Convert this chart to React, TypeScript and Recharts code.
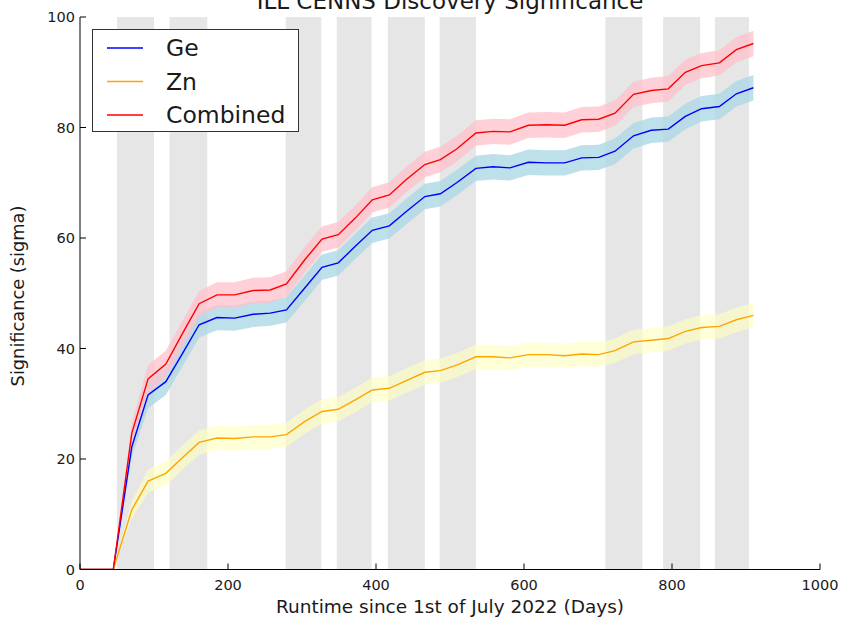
import React from 'react';
import { ComposedChart, Area, Line, XAxis, YAxis, ReferenceArea, Legend } from 'recharts';

// Runtime (days since 1 July 2022) at each evaluation step
const days = [0, 45, 70, 92, 116, 138, 161, 185, 209, 234, 257, 279, 304, 327, 349, 372, 395, 418, 441, 466, 487, 509, 535, 558, 581, 606, 630, 655, 678, 701, 723, 748, 772, 795, 818, 840, 864, 887, 910];

// Discovery significance (sigma) per detector and combined
const ge = [0, 0, 22.2, 31.6, 34.0, 39.0, 44.3, 45.6, 45.5, 46.2, 46.4, 47.0, 51.0, 54.7, 55.5, 58.5, 61.4, 62.2, 64.8, 67.5, 68.0, 70.0, 72.6, 72.9, 72.7, 73.7, 73.6, 73.6, 74.5, 74.6, 75.7, 78.5, 79.5, 79.7, 82.0, 83.4, 83.8, 86.1, 87.2];
const zn = [0, 0, 10.8, 16.0, 17.4, 20.2, 23.0, 23.8, 23.7, 24.0, 24.0, 24.4, 26.8, 28.6, 29.0, 30.7, 32.5, 32.8, 34.2, 35.7, 36.0, 37.0, 38.5, 38.5, 38.3, 38.9, 38.9, 38.7, 39.0, 38.9, 39.6, 41.2, 41.5, 41.8, 43.1, 43.8, 44.0, 45.2, 46.0];
const comb = [0, 0, 24.7, 34.5, 37.2, 42.6, 48.1, 49.7, 49.7, 50.5, 50.6, 51.7, 56.1, 59.8, 60.6, 63.6, 66.9, 67.8, 70.6, 73.3, 74.2, 76.1, 79.0, 79.3, 79.2, 80.4, 80.5, 80.4, 81.4, 81.5, 82.6, 86.0, 86.7, 87.0, 90.0, 91.2, 91.7, 94.1, 95.2];

// Half-width of the uncertainty band (sigma)
const geErr = [0, 0, 1.8, 2.4, 2.4, 2.3, 2.3, 2.3, 2.3, 2.3, 2.3, 2.3, 2.3, 2.3, 2.3, 2.3, 2.3, 2.3, 2.3, 2.3, 2.3, 2.3, 2.3, 2.3, 2.3, 2.3, 2.3, 2.3, 2.3, 2.3, 2.3, 2.3, 2.3, 2.3, 2.3, 2.3, 2.3, 2.3, 2.3];
const znErr = [0, 0, 1.6, 2.1, 2.2, 2.2, 2.2, 2.2, 2.2, 2.2, 2.2, 2.2, 2.2, 2.2, 2.2, 2.2, 2.2, 2.2, 2.2, 2.2, 2.2, 2.2, 2.2, 2.2, 2.2, 2.2, 2.2, 2.2, 2.2, 2.2, 2.2, 2.2, 2.2, 2.2, 2.2, 2.2, 2.2, 2.2, 2.2];
const combErr = [0, 0, 1.8, 2.5, 2.4, 2.3, 2.3, 2.3, 2.3, 2.3, 2.3, 2.3, 2.3, 2.3, 2.3, 2.3, 2.3, 2.3, 2.3, 2.3, 2.3, 2.3, 2.3, 2.3, 2.3, 2.3, 2.3, 2.3, 2.3, 2.3, 2.3, 2.3, 2.3, 2.3, 2.3, 2.3, 2.3, 2.3, 2.3];

// Reactor-off periods (days)
const shutdowns: [number, number][] = [
  [50, 100], [121, 172], [278, 326], [347, 394], [416, 466], [486, 535], [710, 760], [788, 838], [858, 904],
];

const xTicks = [0, 200, 400, 600, 800, 1000];
const yTicks = [0, 20, 40, 60, 80, 100];

const legendItems = [
  { name: 'Ge', color: '#0000ff' },
  { name: 'Zn', color: '#ffa500' },
  { name: 'Combined', color: '#ff0000' },
];

const FONT = '"DejaVu Sans", sans-serif';
const INK = '#1a1a1a';

const rows = days.map((d, i) => ({
  day: d,
  ge: ge[i],
  zn: zn[i],
  comb: comb[i],
  geBand: [ge[i] - geErr[i], ge[i] + geErr[i]],
  znBand: [zn[i] - znErr[i], zn[i] + znErr[i]],
  combBand: [comb[i] - combErr[i], comb[i] + combErr[i]],
}));

const BottomTick = (p: any) => (
  <g>
    <line x1={p.x} x2={p.x} y1={p.y} y2={p.y - 6} stroke="#000" />
    <text x={p.x} y={p.y + 20} textAnchor="middle" fontSize={14.5} fontFamily={FONT} fill={INK}>
      {p.payload.value}
    </text>
  </g>
);

const TopTick = (p: any) => <line x1={p.x} x2={p.x} y1={p.y} y2={p.y + 6} stroke="#000" />;

const LeftTick = (p: any) => (
  <g>
    <line x1={p.x} x2={p.x + 6} y1={p.y} y2={p.y} stroke="#000" />
    <text x={p.x - 5} y={p.y + 5} textAnchor="end" fontSize={14.5} fontFamily={FONT} fill={INK}>
      {p.payload.value}
    </text>
  </g>
);

const RightTick = (p: any) => <line x1={p.x} x2={p.x - 6} y1={p.y} y2={p.y} stroke="#000" />;

const LegendBox = () => (
  <div
    style={{
      position: 'relative',
      width: 207,
      height: 103,
      border: '1px solid #333',
      background: '#fff',
      boxSizing: 'border-box',
      fontFamily: FONT,
      fontSize: 23.5,
      color: INK,
    }}
  >
    <svg width={60} height={101} style={{ position: 'absolute', left: 0, top: 0 }}>
      {legendItems.map((it, i) => (
        <line key={it.name} x1={14} x2={50} y1={18 + i * 33.5} y2={18 + i * 33.5} stroke={it.color} strokeWidth={1.6} />
      ))}
    </svg>
    {legendItems.map((it, i) => (
      <div
        key={it.name}
        style={{ position: 'absolute', left: 73, top: 4 + i * 33.5, lineHeight: '28px', whiteSpace: 'nowrap' }}
      >
        {it.name}
      </div>
    ))}
  </div>
);

export default function App() {
  return (
    <div style={{ position: 'absolute', left: 0, top: 0, width: 844, height: 620, background: '#fff' }}>
      <ComposedChart
        width={844}
        height={620}
        data={rows}
        margin={{ top: 17, right: 24, bottom: 0, left: 0 }}
      >
        {shutdowns.map(([a, b]) => (
          <ReferenceArea
            key={a}
            x1={a}
            x2={b}
            y1={0}
            y2={100}
            fill="#e6e6e6"
            fillOpacity={1}
            stroke="none"
            ifOverflow="visible"
            zIndex={-50}
          />
        ))}
        <XAxis
          dataKey="day"
          type="number"
          domain={[0, 1000]}
          ticks={xTicks}
          allowDataOverflow
          height={50.5}
          tickLine={false}
          tickSize={0}
          tickMargin={0}
          axisLine={{ stroke: '#000' }}
          tick={<BottomTick />}
          label={{
            content: () => (
              <g>
                <text x={450} y={613} textAnchor="middle" fontSize={18.5} fontFamily={FONT} fill={INK}>
                  Runtime since 1st of July 2022 (Days)
                </text>
                <text x={450} y={9} textAnchor="middle" fontSize={23} fontFamily={FONT} fill={INK}>
                  ILL CENNS Discovery Significance
                </text>
              </g>
            ),
          }}
        />
        <XAxis
          xAxisId="top"
          orientation="top"
          type="number"
          domain={[0, 1000]}
          ticks={xTicks}
          allowDataOverflow
          height={0}
          tickLine={false}
          tickSize={0}
          tickMargin={0}
          axisLine={{ stroke: '#000' }}
          tick={<TopTick />}
        />
        <YAxis
          type="number"
          domain={[0, 100]}
          ticks={yTicks}
          allowDataOverflow
          width={80}
          tickLine={false}
          tickSize={0}
          tickMargin={0}
          axisLine={{ stroke: '#000' }}
          tick={<LeftTick />}
          label={{
            content: () => (
              <text
                transform="translate(24,296) rotate(-90)"
                textAnchor="middle"
                fontSize={17.8}
                fontFamily={FONT}
                fill={INK}
              >
                Significance (sigma)
              </text>
            ),
          }}
        />
        <YAxis
          yAxisId="right"
          orientation="right"
          type="number"
          domain={[0, 100]}
          ticks={yTicks}
          allowDataOverflow
          width={0}
          tickLine={false}
          tickSize={0}
          tickMargin={0}
          axisLine={{ stroke: '#000' }}
          tick={<RightTick />}
        />
        <Area type="linear" dataKey="znBand" stroke="none" fill="#ffffc2" fillOpacity={0.65} isAnimationActive={false} />
        <Area type="linear" dataKey="geBand" stroke="none" fill="#add8e6" fillOpacity={0.8} isAnimationActive={false} />
        <Area type="linear" dataKey="combBand" stroke="none" fill="#ffc0cb" fillOpacity={0.75} isAnimationActive={false} />
        <Line type="linear" dataKey="ge" stroke="#0000ff" strokeWidth={1.4} dot={false} isAnimationActive={false} />
        <Line type="linear" dataKey="zn" stroke="#ffa500" strokeWidth={1.4} dot={false} isAnimationActive={false} />
        <Line type="linear" dataKey="comb" stroke="#ff0000" strokeWidth={1.4} dot={false} isAnimationActive={false} />
        <Legend
          layout="vertical"
          align="center"
          verticalAlign="middle"
          wrapperStyle={{ left: 92, top: 29, right: 'auto', bottom: 'auto', width: 'auto' }}
          content={() => <LegendBox />}
        />
      </ComposedChart>
    </div>
  );
}
